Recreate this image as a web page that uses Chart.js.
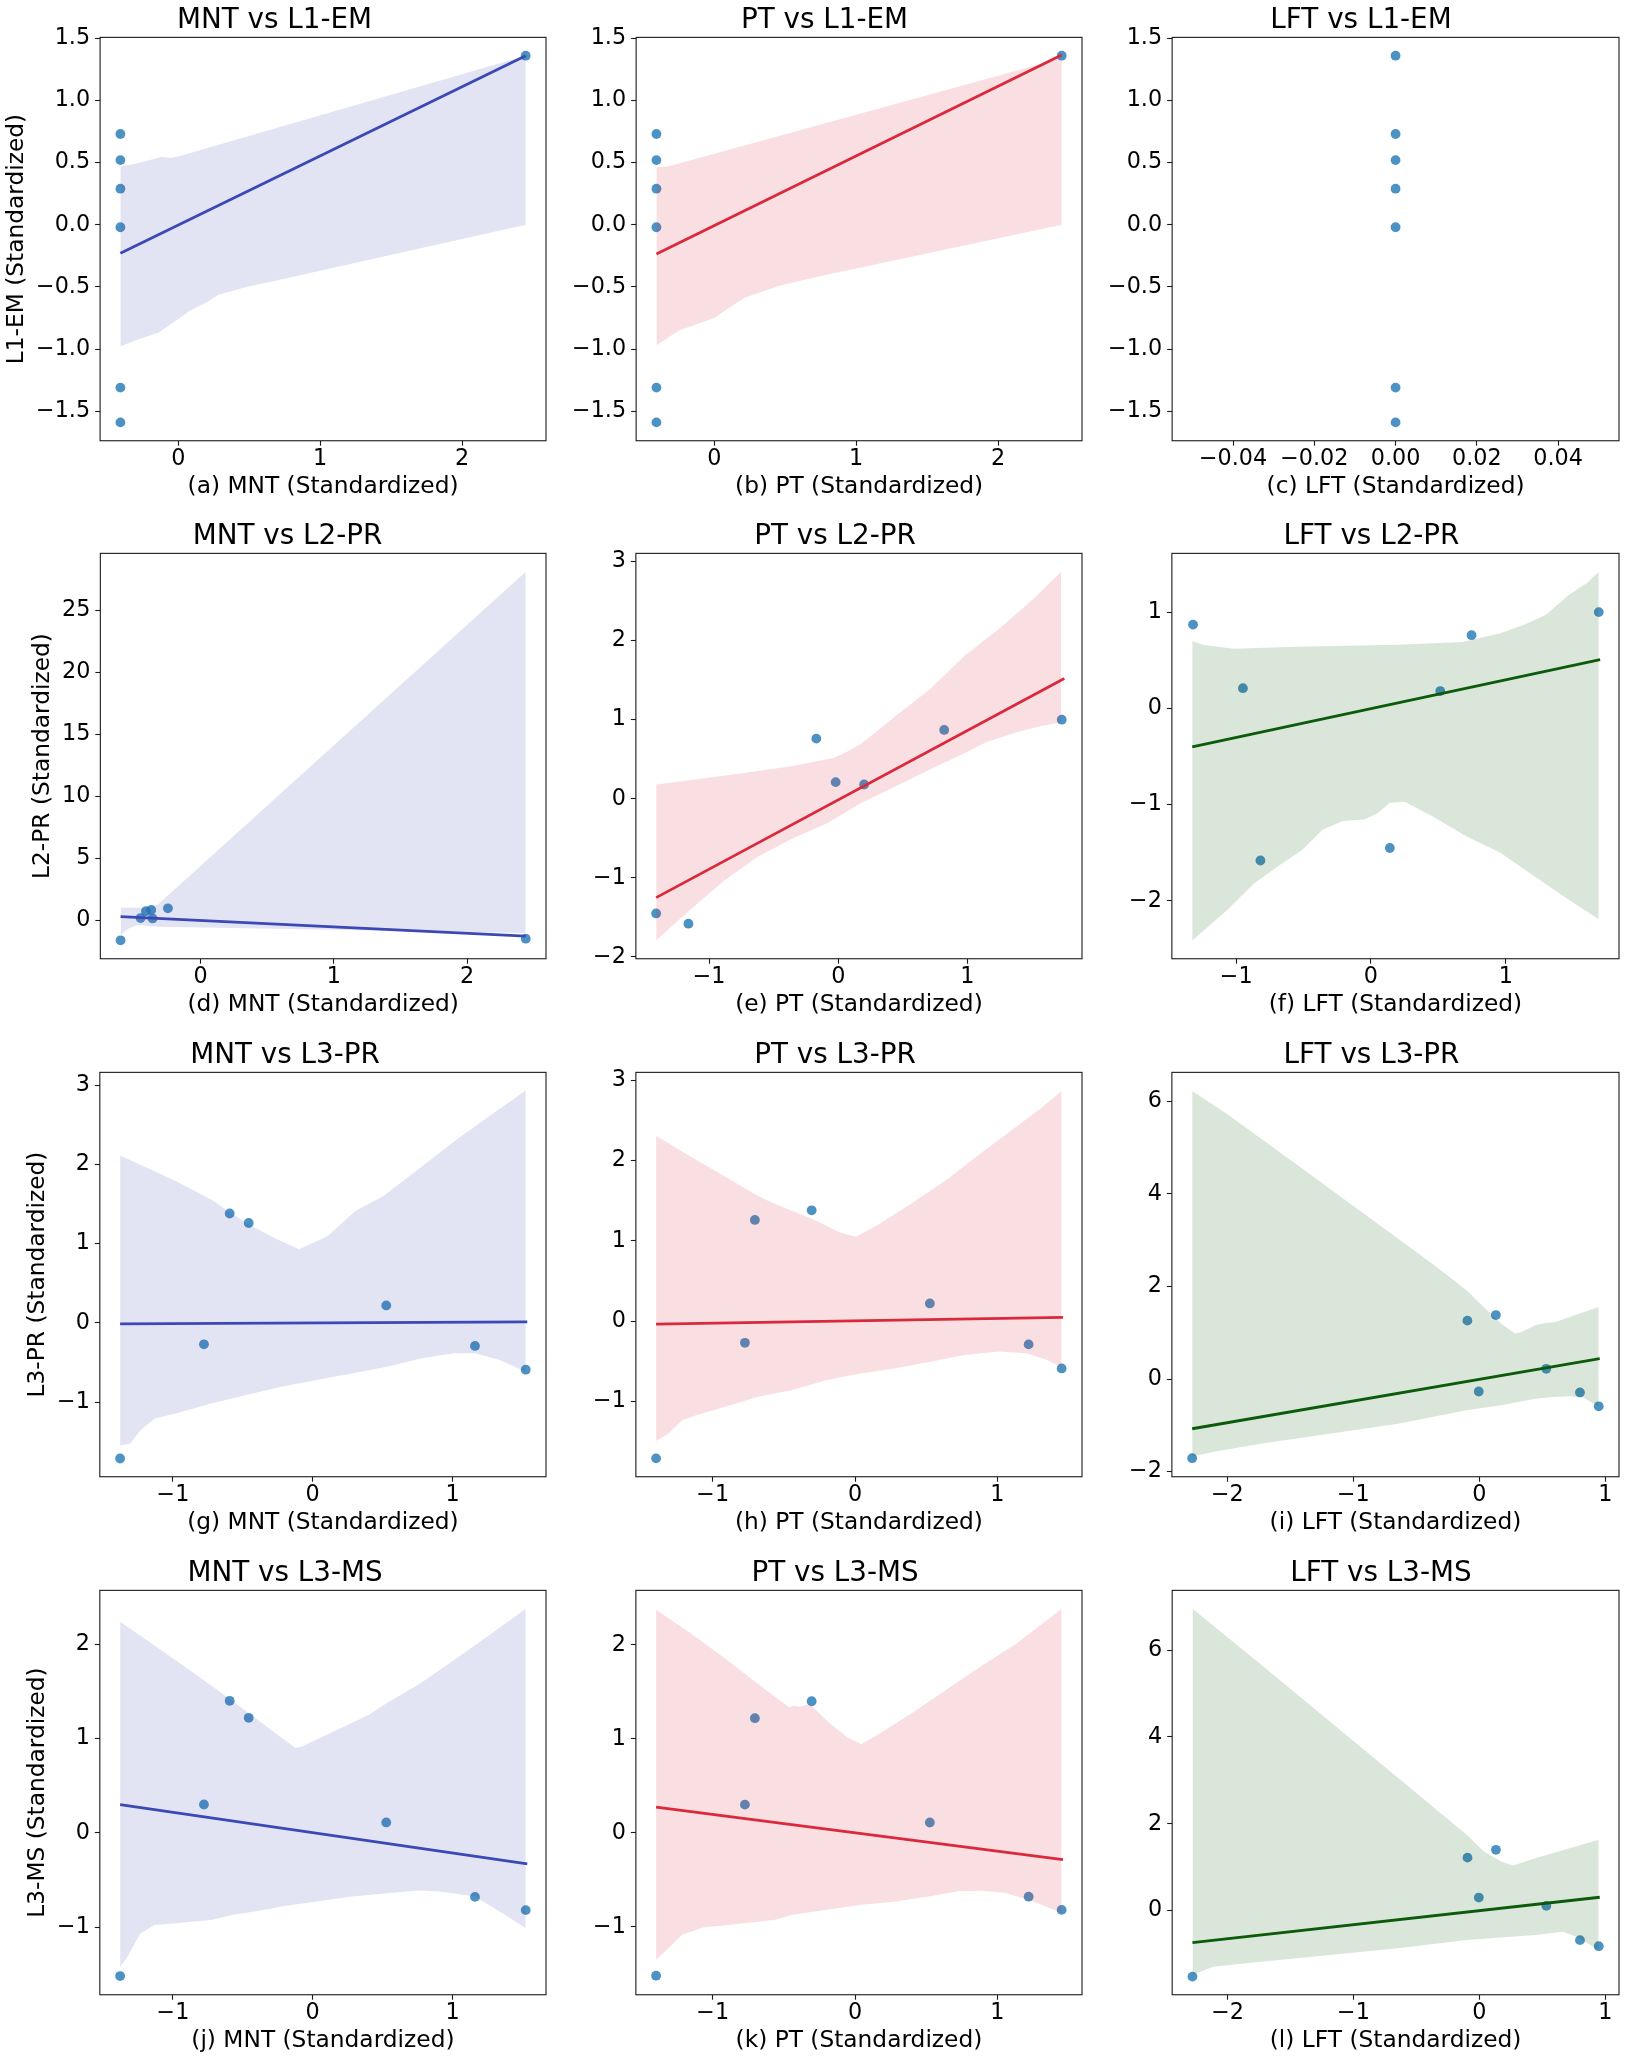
<!DOCTYPE html>
<html><head><meta charset="utf-8">
<script src="https://cdn.jsdelivr.net/npm/chart.js@4.4.1/dist/chart.umd.min.js"></script>
<style>
html,body{margin:0;padding:0;background:#fff;}
body{width:1627px;height:2061px;position:relative;overflow:hidden;}
canvas{position:absolute;}
</style></head><body>
<script>
// ================= DATA =================
const xVars = ['MNT', 'PT', 'LFT'];
const yVars = ['L1-EM', 'L2-PR', 'L3-PR', 'L3-MS'];
const letters = ['a','b','c','d','e','f','g','h','i','j','k','l'];

// Row 1 : L1-EM
const yL1EM = [0.73, 0.52, 0.29, -0.02, -1.31, -1.59, 1.36];
const mntL1 = [-0.408, -0.408, -0.408, -0.408, -0.408, -0.408, 2.449];
const ptL1  = [-0.408, -0.408, -0.408, -0.408, -0.408, -0.408, 2.449];
const lftL1 = [0, 0, 0, 0, 0, 0, 0];
// Row 2 : L2-PR
const yL2PR = [-1.45, -1.58, 0.76, 0.21, 0.18, 0.87, 1.00];
const mntL2 = [2.44, -0.60, -0.41, -0.45, -0.36, -0.37, -0.245];
const ptL2  = [-1.41, -1.16, -0.17, -0.02, 0.20, 0.82, 1.73];
const lftL2 = [0.14, -0.82, 0.746, -0.95, 0.514, -1.32, 1.69];
// Rows 3-4 : L3-PR, L3-MS (same records)
const yL3PR = [-1.71, -0.27, 1.38, 1.26, 0.22, -0.29, -0.59];
const yL3MS = [-1.52, 0.30, 1.40, 1.22, 0.11, -0.68, -0.82];
const mntL3 = [-1.378, -0.778, -0.594, -0.458, 0.526, 1.161, 1.524];
const ptL3  = [-1.398, -0.774, -0.305, -0.704, 0.525, 1.219, 1.451];
const lftL3 = [-2.279, -0.005, 0.131, -0.095, 0.531, 0.798, 0.947];

// Regression line end points [x, y]
const lineA = [[-0.408, -0.23], [2.449, 1.36]];
const lineB = [[-0.408, -0.235], [2.449, 1.365]];
const lineD = [[-0.60, 0.32], [2.44, -1.24]];
const lineE = [[-1.41, -1.25], [1.75, 1.52]];
const lineF = [[-1.326, -0.40], [1.70, 0.506]];
const lineG = [[-1.378, -0.013], [1.535, 0.013]];
const lineH = [[-1.398, -0.038], [1.46, 0.046]];
const lineI = [[-2.279, -1.074], [0.955, 0.44]];
const lineJ = [[-1.378, 0.298], [1.535, -0.329]];
const lineK = [[-1.398, 0.274], [1.46, -0.285]];
const lineL = [[-2.279, -0.738], [0.955, 0.308]];

// Confidence bands [x, y]
const bandA_up = [[-0.408,0.47],[-0.3,0.49],[-0.2,0.52],[-0.12,0.545],[-0.05,0.54],[0.0,0.55],[2.449,1.36]];
const bandA_lo = [[-0.408,-0.98],[-0.3,-0.93],[-0.141,-0.868],[-0.017,-0.772],[0.082,-0.692],[0.206,-0.62],[0.28,-0.566],[0.479,-0.5],[0.653,-0.459],[2.449,0.0]];
const bandB_up = [[-0.408,0.46],[-0.32,0.47],[2.449,1.34]];
const bandB_lo = [[-0.408,-0.97],[-0.34,-0.92],[-0.25,-0.85],[-0.1,-0.79],[0,-0.75],[0.09,-0.68],[0.21,-0.59],[0.31,-0.55],[0.46,-0.49],[0.72,-0.42],[2.449,0.0]];
const bandD_up = [[-0.60,1.05],[-0.40,1.05],[-0.32,1.3],[2.44,28.1]];
const bandD_lo = [[-0.60,-1.16],[-0.54,-0.62],[-0.47,-0.35],[-0.32,-0.49],[2.44,-1.0]];
const bandE_up = [[-1.41,0.18],[-0.884,0.29],[-0.35,0.415],[-0.03,0.52],[0.075,0.6],[0.18,0.70],[0.447,1.05],[0.714,1.39],[0.98,1.81],[1.246,2.15],[1.512,2.53],[1.726,2.87]];
const bandE_lo = [[-1.41,-1.79],[-1.15,-1.41],[-0.88,-1.03],[-0.62,-0.73],[-0.35,-0.50],[-0.085,-0.31],[0.18,-0.05],[0.45,0.16],[0.71,0.37],[0.98,0.58],[1.14,0.71],[1.38,0.84],[1.57,0.92],[1.726,0.966]];
const bandF_up = [[-1.326,0.70],[-1.25,0.66],[-1.02,0.62],[-0.56,0.64],[0.2,0.66],[0.68,0.69],[0.96,0.78],[1.14,0.87],[1.295,0.97],[1.47,1.18],[1.60,1.30],[1.69,1.42]];
const bandF_lo = [[-1.326,-2.41],[-1.07,-2.10],[-0.87,-1.82],[-0.66,-1.61],[-0.51,-1.47],[-0.36,-1.26],[-0.21,-1.17],[-0.05,-1.155],[0.05,-1.09],[0.14,-0.98],[0.25,-0.97],[0.455,-1.12],[0.71,-1.33],[0.96,-1.50],[1.22,-1.75],[1.47,-1.99],[1.69,-2.19]];
const bandG_up = [[-1.378,2.11],[-0.98,1.79],[-0.728,1.557],[-0.476,1.26],[-0.275,1.07],[-0.098,0.93],[0.103,1.09],[0.305,1.41],[0.506,1.60],[0.758,1.94],[1.035,2.32],[1.338,2.70],[1.524,2.93]];
const bandG_lo = [[-1.378,-1.544],[-1.307,-1.523],[-1.232,-1.354],[-1.131,-1.207],[-0.98,-1.143],[-0.728,-1.017],[-0.476,-0.91],[-0.224,-0.806],[0.028,-0.72],[0.28,-0.637],[0.531,-0.553],[0.783,-0.447],[1.01,-0.384],[1.161,-0.384],[1.338,-0.468],[1.524,-0.616]];
const bandH_up = [[-1.398,2.31],[-1.166,2.06],[-0.924,1.81],[-0.682,1.56],[-0.585,1.477],[-0.44,1.372],[-0.295,1.268],[-0.198,1.185],[-0.102,1.10],[0.007,1.05],[0.164,1.205],[0.406,1.477],[0.648,1.768],[0.89,2.10],[1.108,2.39],[1.301,2.645],[1.451,2.87]];
const bandH_lo = [[-1.398,-1.494],[-1.311,-1.40],[-1.214,-1.235],[-1.117,-1.172],[-0.875,-1.047],[-0.682,-0.943],[-0.44,-0.859],[-0.198,-0.734],[0.044,-0.65],[0.285,-0.588],[0.527,-0.505],[0.769,-0.421],[1.011,-0.38],[1.204,-0.40],[1.349,-0.484],[1.451,-0.576]];
const bandI_up = [[-2.279,6.22],[-2.008,5.73],[-1.463,4.66],[-0.918,3.575],[-0.373,2.49],[-0.101,1.917],[0.035,1.557],[0.172,1.196],[0.281,0.98],[0.335,1.016],[0.444,1.16],[0.526,1.21],[0.607,1.232],[0.716,1.34],[0.947,1.557]];
const bandI_lo = [[-2.279,-1.672],[-2.116,-1.578],[-1.735,-1.398],[-1.19,-1.182],[-0.645,-0.966],[-0.101,-0.677],[0.172,-0.569],[0.444,-0.425],[0.58,-0.389],[0.716,-0.375],[0.825,-0.404],[0.947,-0.591]];
const bandJ_up = [[-1.378,2.24],[-1.106,1.96],[-0.854,1.697],[-0.602,1.43],[-0.35,1.148],[-0.123,0.90],[-0.073,0.917],[0.154,1.077],[0.406,1.254],[0.531,1.378],[0.758,1.573],[1.035,1.856],[1.287,2.122],[1.524,2.377]];
const bandJ_lo = [[-1.378,-1.42],[-1.332,-1.33],[-1.232,-1.066],[-1.131,-0.978],[-0.98,-0.96],[-0.728,-0.925],[-0.577,-0.871],[-0.35,-0.818],[-0.224,-0.783],[0.028,-0.73],[0.28,-0.677],[0.531,-0.641],[0.758,-0.613],[0.909,-0.623],[1.161,-0.677],[1.338,-0.836],[1.524,-1.013]];
const bandK_up = [[-1.398,2.374],[-1.166,2.135],[-0.924,1.868],[-0.682,1.584],[-0.464,1.335],[-0.428,1.352],[-0.392,1.342],[-0.319,1.37],[-0.198,1.192],[-0.053,1.014],[0.044,0.943],[0.164,1.05],[0.406,1.281],[0.648,1.53],[0.89,1.779],[1.132,2.011],[1.451,2.384]];
const bandK_lo = [[-1.398,-1.352],[-1.311,-1.228],[-1.214,-1.085],[-1.069,-1.007],[-0.875,-0.979],[-0.561,-0.925],[-0.44,-0.872],[-0.198,-0.819],[0.044,-0.765],[0.285,-0.73],[0.527,-0.676],[0.721,-0.623],[0.89,-0.616],[1.059,-0.641],[1.253,-0.73],[1.451,-0.854]];
const bandL_up = [[-2.279,6.954],[-1.735,5.67],[-1.19,4.36],[-0.645,3.054],[-0.101,1.746],[0.035,1.362],[0.172,1.13],[0.267,1.038],[0.444,1.208],[0.716,1.438],[0.947,1.63]];
const bandL_lo = [[-2.279,-1.485],[-2.116,-1.292],[-1.735,-1.177],[-1.19,-1.023],[-0.645,-0.869],[-0.101,-0.677],[0.444,-0.562],[0.662,-0.485],[0.771,-0.6],[0.947,-0.908]];

// Axis limits and tick values
const xLim = [[-0.551,2.592],[-0.551,2.592],[-0.055,0.055],
              [-0.752,2.592],[-1.567,1.887],[-1.477,1.84],
              [-1.523,1.669],[-1.54,1.594],[-2.44,1.108],
              [-1.523,1.669],[-1.54,1.594],[-2.44,1.108]];
const yLim = [[-1.7375,1.5075],[-1.7375,1.5075],[-1.7375,1.5075],
              [-3.064,29.584],[-2.023,3.103],[-2.60,1.61],
              [-1.94,3.16],[-1.939,3.099],[-2.11,6.62],
              [-1.718,2.572],[-1.723,2.58],[-1.938,7.377]];
const xTicks = [[0,1,2],[0,1,2],[-0.04,-0.02,0,0.02,0.04],
                [0,1,2],[-1,0,1],[-1,0,1],
                [-1,0,1],[-1,0,1],[-2,-1,0,1],
                [-1,0,1],[-1,0,1],[-2,-1,0,1]];
const yTicks = [[-1.5,-1,-0.5,0,0.5,1,1.5],[-1.5,-1,-0.5,0,0.5,1,1.5],[-1.5,-1,-0.5,0,0.5,1,1.5],
                [0,5,10,15,20,25],[-2,-1,0,1,2,3],[-2,-1,0,1],
                [-1,0,1,2,3],[-1,0,1,2,3],[-2,0,2,4,6],
                [-1,0,1,2],[-1,0,1,2],[0,2,4,6]];
const xDecimals = [0,0,2, 0,0,0, 0,0,0, 0,0,0];
const yDecimals = [1,1,1, 0,0,0, 0,0,0, 0,0,0];

const panelX = [mntL1, ptL1, lftL1, mntL2, ptL2, lftL2, mntL3, ptL3, lftL3, mntL3, ptL3, lftL3];
const panelY = [yL1EM, yL1EM, yL1EM, yL2PR, yL2PR, yL2PR, yL3PR, yL3PR, yL3PR, yL3MS, yL3MS, yL3MS];
const panelLine = [lineA, lineB, null, lineD, lineE, lineF, lineG, lineH, lineI, lineJ, lineK, lineL];
const panelUp = [bandA_up, bandB_up, null, bandD_up, bandE_up, bandF_up, bandG_up, bandH_up, bandI_up, bandJ_up, bandK_up, bandL_up];
const panelLo = [bandA_lo, bandB_lo, null, bandD_lo, bandE_lo, bandF_lo, bandG_lo, bandH_lo, bandI_lo, bandJ_lo, bandK_lo, bandL_lo];

// ================= STYLE / LAYOUT =================
const colColors = [[60,72,180],[218,40,60],[12,90,12]];
const pointColor = 'rgba(31,119,180,0.8)';
const colLeft = [100, 636, 1172], colWidth = [446, 446, 447];
const rowTop = [37, 553, 1072, 1590], rowHeight = [403, 405, 404, 404];
const FONT = 'DejaVu Sans';
const MINUS = '\u2212';
Chart.defaults.font.family = FONT;
Chart.defaults.color = '#000';

function fmt(v, d) {
  const s = Math.abs(v).toFixed(d);
  return (v < -1e-9 ? MINUS : '') + s;
}
function pts(arr) { return arr.map(p => ({x: p[0], y: p[1]})); }

const framePlugin = {
  id: 'frame',
  afterDraw(chart) {
    const a = chart.chartArea, ctx = chart.ctx;
    ctx.save();
    ctx.strokeStyle = '#1a1a1a';
    ctx.lineWidth = 1.1;
    ctx.strokeRect(a.left, a.top, a.right - a.left, a.bottom - a.top);
    ctx.restore();
  }
};

function makeConfig(i) {
  const row = Math.floor(i / 3), col = i % 3;
  const c = colColors[col];
  const rgb = `rgb(${c[0]},${c[1]},${c[2]})`;
  const rgba = `rgba(${c[0]},${c[1]},${c[2]},0.15)`;
  const datasets = [];
  if (panelLine[i]) {
    datasets.push({data: pts(panelLine[i]), borderColor: rgb, borderWidth: 2.8, pointRadius: 0, fill: false, order: 0});
    datasets.push({data: pts(panelUp[i]), borderWidth: 0, borderColor: 'rgba(0,0,0,0)', pointRadius: 0,
                   backgroundColor: rgba, fill: '+1', order: 1});
    datasets.push({data: pts(panelLo[i]), borderWidth: 0, borderColor: 'rgba(0,0,0,0)', pointRadius: 0, fill: false, order: 2});
  }
  datasets.push({data: panelX[i].map((x, k) => ({x, y: panelY[i][k]})), showLine: false,
                 pointRadius: 4.9, pointBackgroundColor: pointColor, pointBorderWidth: 0, order: 3});
  const xt = xTicks[i], yt = yTicks[i];
  const tickGrid = {display: true, drawOnChartArea: false, drawTicks: true, tickLength: 5,
                    tickWidth: 1.1, tickColor: '#1a1a1a', color: '#1a1a1a'};
  return {
    type: 'line',
    data: {datasets},
    plugins: [framePlugin],
    options: {
      responsive: false, animation: false, devicePixelRatio: 1, events: [],
      layout: {padding: {top: 0, right: 14, bottom: 2, left: 2}},
      plugins: {
        legend: {display: false}, tooltip: {enabled: false},
        filler: {propagate: false, drawTime: 'beforeDatasetDraw'},
        title: {display: true, text: `${xVars[col]} vs ${yVars[row]}`, color: '#000',
                font: {family: FONT, size: 27.8, weight: 'normal'}, padding: {top: 2, bottom: 0}}
      },
      scales: {
        x: {
          type: 'linear', min: xLim[i][0], max: xLim[i][1], bounds: 'data',
          afterBuildTicks: s => { s.ticks = xt.map(v => ({value: v})); },
          ticks: {callback: v => fmt(v, xDecimals[i]), font: {size: 22.3, lineHeight: 1.0}, color: '#000',
                  padding: 2, maxRotation: 0, autoSkip: false},
          grid: tickGrid, border: {display: false},
          title: {display: true, text: `(${letters[i]}) ${xVars[col]} (Standardized)`, color: '#000',
                  font: {size: 23.3, lineHeight: 1.2}, padding: {top: 1, bottom: 0}}
        },
        y: {
          type: 'linear', min: yLim[i][0], max: yLim[i][1], bounds: 'data',
          afterBuildTicks: s => { s.ticks = yt.map(v => ({value: v})); },
          ticks: {callback: v => fmt(v, yDecimals[i]), font: {size: 22.3, lineHeight: 1.0}, color: '#000',
                  padding: 5, autoSkip: false},
          grid: tickGrid, border: {display: false},
          title: {display: col === 0, text: `${yVars[row]} (Standardized)`, color: '#000',
                  font: {size: 23.3, lineHeight: 1.2}, padding: {top: 0, bottom: 0}}
        }
      }
    }
  };
}

for (let i = 0; i < 12; i++) {
  const row = Math.floor(i / 3), col = i % 3;
  const L0 = colLeft[col], T0 = rowTop[row], W = colWidth[col], H = rowHeight[row];
  const W0 = W + 300, H0 = H + 200;
  const m = document.createElement('canvas');
  m.width = W0; m.height = H0; m.style.left = '0px'; m.style.top = '0px';
  document.body.appendChild(m);
  const mc = new Chart(m, makeConfig(i));
  const a = mc.chartArea;
  const L = a.left, T = a.top, R = W0 - a.right, B = H0 - a.bottom;
  mc.destroy(); m.remove();
  const cv = document.createElement('canvas');
  cv.width = Math.round(L + W + R); cv.height = Math.round(T + H + B);
  cv.style.left = Math.round(L0 - L) + 'px';
  cv.style.top = Math.round(T0 - T) + 'px';
  document.body.appendChild(cv);
  new Chart(cv, makeConfig(i));
}
</script>
</body></html>
